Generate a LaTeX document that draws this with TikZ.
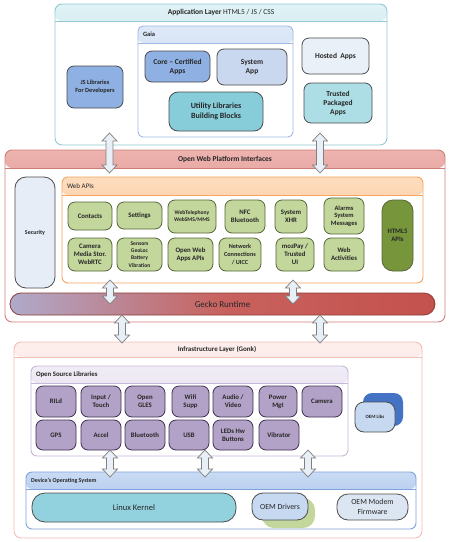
\documentclass[tikz,border=0pt]{standalone}
\usepackage{fontspec}
\setmainfont{Carlito}
\definecolor{appB}{HTML}{93C9D4}
\definecolor{appH1}{HTML}{B3DCE5}
\definecolor{appH2}{HTML}{E0F2F5}
\definecolor{gaiaB}{HTML}{9DB9E4}
\definecolor{gaiaH1}{HTML}{BDD0EE}
\definecolor{gaiaH2}{HTML}{DEE8F7}
\definecolor{coreF}{HTML}{8EB0E2}
\definecolor{sysF}{HTML}{C9D7EF}
\definecolor{utilF}{HTML}{86CDD9}
\definecolor{hostF}{HTML}{EAF0F8}
\definecolor{trustF}{HTML}{ADDEE6}
\definecolor{owpB}{HTML}{D27C78}
\definecolor{owpH1}{HTML}{D0645F}
\definecolor{owpH2}{HTML}{EDB3AF}
\definecolor{webB}{HTML}{F8A45E}
\definecolor{webH1}{HTML}{FBB47A}
\definecolor{webH2}{HTML}{FDDDBF}
\definecolor{grnF}{HTML}{C3D69B}
\definecolor{grnB}{HTML}{56663A}
\definecolor{hfF}{HTML}{77963C}
\definecolor{secF}{HTML}{E6EDF7}
\definecolor{infB}{HTML}{F2BDB7}
\definecolor{infH1}{HTML}{F8D2CD}
\definecolor{infH2}{HTML}{FDEEEC}
\definecolor{oslB}{HTML}{C6B8D8}
\definecolor{oslH1}{HTML}{D8CEE6}
\definecolor{oslH2}{HTML}{F1EDF6}
\definecolor{purF}{HTML}{B3A2C7}
\definecolor{purB}{HTML}{3F3151}
\definecolor{devB}{HTML}{7FA3DA}
\definecolor{devH1}{HTML}{95B7E8}
\definecolor{devH2}{HTML}{CADBF3}
\definecolor{linF}{HTML}{92D2DE}
\definecolor{oemF}{HTML}{C6D9F1}
\definecolor{modF}{HTML}{DCE6F2}
\definecolor{oemLB}{HTML}{4472C4}
\definecolor{arrF}{HTML}{E8EFF6}
\definecolor{arrB}{HTML}{808080}
\definecolor{txt}{HTML}{262626}
\definecolor{geL}{HTML}{AFAACB}
\definecolor{geM}{HTML}{C8625E}
\definecolor{geR}{HTML}{C4514D}
\definecolor{geB}{HTML}{8E3B38}
\newcommand\fs[2]{\fontsize{#1pt}{#2pt}\selectfont}
\newcommand\bxn[7][]{\node[#1, minimum width={(#5)-(#3)}, minimum height={(#6)-(#4)}] (#2) at ({((#3)+(#5))/2},{((#4)+(#6))/2}) {#7};}
\newcommand\dar[4]{%
  \coordinate (#1t) at (#2,#3); \coordinate (#1b) at (#2,#4);
  \draw[dblarrow] (#1t) -- ({#2+7.5},{#3+8}) -- ({#2+3.5},{#3+8}) -- ({#2+3.5},{#4-8}) -- ({#2+7.5},{#4-8}) -- (#1b)
    -- ({#2-7.5},{#4-8}) -- ({#2-3.5},{#4-8}) -- ({#2-3.5},{#3+8}) -- ({#2-7.5},{#3+8}) -- cycle;}
\tikzset{
  every node/.style={inner sep=1pt, outer sep=0pt, align=center, text=txt},
  layer/.style={draw=#1, line width=0.9pt, fill=white, rounded corners=7pt},
  header/.style n args={4}{path picture={
     \shade[top color=#1, bottom color=#2] (path picture bounding box.north west) rectangle ([yshift=-#3pt]path picture bounding box.north east);
     \draw[#4, line width=0.8pt] ([yshift=-#3pt]path picture bounding box.north west) -- ([yshift=-#3pt]path picture bounding box.north east);}},
  item/.style 2 args={draw=#1, fill=#2, line width=0.8pt, rounded corners=7pt},
  bitem/.style={item={black!70}{#1}, font=\fs{7.5}{9}\bfseries},
  gitem/.style={item={grnB}{grnF}, font=\fs{6.8}{8}\bfseries},
  pitem/.style={item={purB}{purF}, font=\fs{6.8}{8.2}\bfseries},
  dblarrow/.style={draw=arrB, fill=arrF, line width=0.7pt, line join=miter},
}
\begin{document}
\begin{tikzpicture}[x=1pt,y=-1pt]
\useasboundingbox (0,0) rectangle (450,542);
% ---------------- Application layer
\bxn[layer=appB, header={appH2}{appH1}{17}{appB}]{app}{55}{4}{387}{145}{}
\node (appt) at (221,12.5) {\fs{7.5}{9}\textbf{Application Layer} HTML5 / JS / CSS};
\bxn[layer=gaiaB, header={gaiaH2}{gaiaH1}{17}{gaiaB}, rounded corners=5pt]{gaia}{138}{26}{293}{137}{}
\node[anchor=west] (gaiat) at (142,34.5) {\fs{6.5}{8}\textbf{Gaia}};
\bxn[bitem=coreF]{core}{145}{51}{210}{82}{Core -- Certified\\Apps}
\bxn[bitem=sysF]{sys}{217}{49}{287}{85}{System\\App}
\bxn[bitem=utilF, font=\fs{8}{10}\bfseries, rounded corners=9pt]{util}{169}{92}{263}{131}{Utility Libraries\\Building Blocks}
\bxn[bitem=coreF, font=\fs{6.3}{8}\bfseries]{js}{67}{66}{123}{108}{JS Libraries\\For Developers}
\bxn[bitem=hostF]{hosted}{302}{38}{369}{74}{Hosted~~Apps}
\bxn[bitem=trustF]{trusted}{304}{83}{372}{123}{Trusted\\Packaged\\Apps}
% ---------------- Open Web Platform
\bxn[layer=owpB, header={owpH2}{owpH1}{18}{owpB}]{owp}{5}{150}{445}{322}{}
\node (owpt) at (225,159) {\fs{7.5}{9}\textbf{Open Web Platform Interfaces}};
\bxn[item={black!70}{secF}, rounded corners=11pt, font=\fs{6}{7}\bfseries]{sec}{15}{177}{55}{288}{Security}
\bxn[layer=webB, header={webH2}{webH1}{18}{webB}, rounded corners=6pt]{web}{62}{177}{423}{283}{}
\node[anchor=west] (webt) at (66,186) {\fs{7}{8}Web APIs};
\bxn[gitem]{contacts}{68}{202}{112}{230}{Contacts}
\bxn[gitem]{settings}{117}{202}{162}{229}{Settings}
\bxn[gitem, font=\fs{5.6}{7}\bfseries]{tel}{168}{200}{216}{233}{WebTelephony\\WebSMS/MMS}
\bxn[gitem]{nfc}{225}{200}{265}{233}{NFC\\Bluetooth}
\bxn[gitem]{xhr}{275}{200}{307}{233}{System\\XHR}
\bxn[gitem, font=\fs{6.5}{7.6}\bfseries]{alarms}{324}{198}{364}{234}{Alarms\\System\\Messages}
\bxn[gitem]{camera}{68}{238}{112}{271}{Camera\\Media Stor.\\WebRTC}
\bxn[gitem, font=\fs{5.6}{7.2}\bfseries]{sensors}{117}{238}{162}{271}{Sensors\\GeoLoc\\Battery\\Vibration}
\bxn[gitem]{owa}{168}{238}{213}{271}{Open Web\\Apps APIs}
\bxn[gitem, font=\fs{6.2}{7.8}\bfseries]{net}{219}{238}{261}{271}{Network\\Connections\\/ UICC}
\bxn[gitem]{moz}{276}{238}{314}{271}{mozPay /\\Trusted\\UI}
\bxn[gitem]{act}{324}{238}{364}{271}{Web\\Activities}
\bxn[item={grnB}{hfF}, rounded corners=11pt, font=\fs{6.8}{8}\bfseries]{html}{382}{200}{413}{271}{HTML5\\APIs}
\bxn[draw=geB, line width=0.8pt, rounded corners=11pt, left color=geL, right color=geR, middle color=geM, font=\fs{9}{10}]{gecko}{10}{293}{435}{315}{Gecko Runtime}
% ---------------- Infrastructure
\bxn[layer=infB, header={infH2}{infH1}{15}{infB}]{infra}{14}{342}{422}{538}{}
\node (infrat) at (217,349.5) {\fs{7}{8}\textbf{Infrastructure Layer (Gonk)}};
\bxn[layer=oslB, header={oslH2}{oslH1}{17}{oslB}, rounded corners=6pt]{osl}{31}{366}{348}{456}{}
\node[anchor=west] (oslt) at (35,374.5) {\fs{6.8}{8}\textbf{Open Source Libraries}};
\bxn[pitem]{rild}{36}{386}{76}{417}{RILd}
\bxn[pitem]{input}{81}{386}{121}{417}{Input /\\Touch}
\bxn[pitem]{gles}{125}{386}{165}{417}{Open\\GLES}
\bxn[pitem]{wifi}{172}{386}{209}{417}{Wifi\\Supp}
\bxn[pitem]{audio}{213}{386}{253}{417}{Audio /\\Video}
\bxn[pitem]{power}{259}{386}{297}{417}{Power\\Mgt}
\bxn[pitem]{cam}{302}{386}{342}{417}{Camera}
\bxn[pitem]{gps}{36}{420}{76}{450}{GPS}
\bxn[pitem]{accel}{81}{420}{121}{450}{Accel}
\bxn[pitem]{bt}{125}{420}{165}{450}{Bluetooth}
\bxn[pitem]{usb}{169}{420}{209}{450}{USB}
\bxn[pitem]{leds}{213}{420}{253}{450}{LEDs Hw\\Buttons}
\bxn[pitem]{vib}{259}{420}{299}{450}{Vibrator}
\bxn[fill=oemLB, rounded corners=9pt]{oemlback}{363}{393}{403}{426}{}
\bxn[item={black!70}{oemF}, rounded corners=9pt, font=\fs{4.8}{6}\bfseries]{oemlibs}{355}{402}{395}{432}{OEM Libs}
% ---------------- Device OS
\bxn[layer=devB, header={devH2}{devH1}{17}{devB}, rounded corners=6pt]{dev}{26}{472}{416}{529}{}
\node[anchor=west] (devt) at (30,480.5) {\fs{6}{7}\textbf{Device's Operating System}};
\bxn[item={black!70}{linF}, rounded corners=13pt, font=\fs{8.5}{10}]{linux}{32}{493}{236}{522}{Linux Kernel}
\bxn[fill=grnF, rounded corners=12pt]{oemdshadow}{262}{498}{315}{528}{}
\bxn[item={black!70}{oemF}, rounded corners=11pt, font=\fs{7.8}{9}]{oemd}{252}{493}{308}{520}{OEM Drivers}
\bxn[item={black!70}{modF}, rounded corners=11pt, font=\fs{7.8}{9.5}]{modem}{337}{494}{408}{520}{OEM Modem\\Firmware}
% ---------------- arrows
\dar{aA}{109.5}{133}{173}
\dar{aB}{320}{133}{173}
\dar{aC}{110}{280}{304}
\dar{aD}{293}{280}{304}
\dar{aE}{122}{315}{343}
\dar{aF}{320}{315}{343}
\dar{aG}{110}{450}{477}
\dar{aH}{205}{450}{477}
\dar{aI}{308}{450}{477}
\end{tikzpicture}
\end{document}
